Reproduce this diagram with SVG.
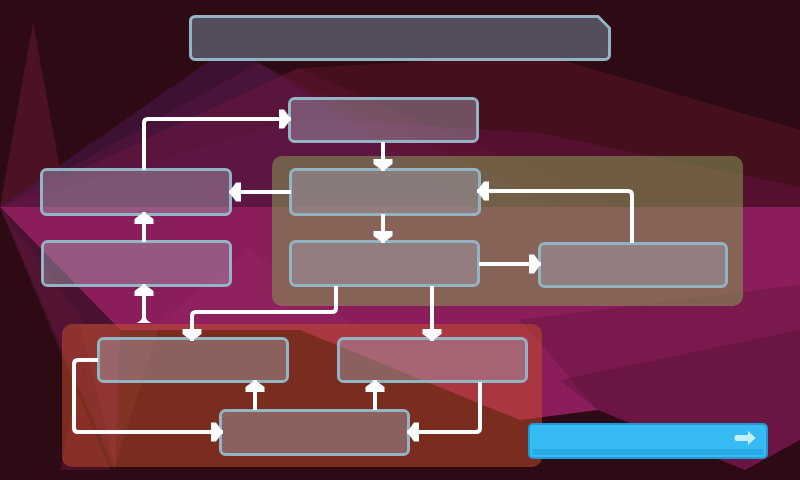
<svg xmlns="http://www.w3.org/2000/svg" width="800" height="480" viewBox="0 0 800 480">
<style>
.node{fill:rgb(165,160,178);fill-opacity:0.45;stroke:#93b4c5;stroke-width:3}
.edge{fill:none;stroke:#ffffff;stroke-width:4}
</style>
<defs>
<marker id="ah" viewBox="0 -10 12 20" refX="12" refY="0" markerWidth="12" markerHeight="20" markerUnits="userSpaceOnUse" orient="auto">
<path d="M0,-9.5 L5,-9.5 L12,0 L5,9.5 L0,9.5 Z" fill="#ffffff"/>
</marker>
<marker id="tail" viewBox="0 -8 6 16" refX="0" refY="0" markerWidth="6" markerHeight="16" markerUnits="userSpaceOnUse" orient="auto">
<path d="M0,-7.5 L0,7.5 Q2,3 5,2 L5,-2 Q2,-3 0,-7.5 Z" fill="#ffffff"/>
</marker>
</defs>
<g id="background">
<rect width="800" height="480" fill="#2d0a14"/>
<polygon points="33,22 62,180 0,207" fill="#4a1222"/>
<polygon points="0,207 298,68 545,55 800,130 800,207" fill="#450f1e"/>
<polygon points="0,207 300,118 540,133 800,187 800,207" fill="#551030"/>
<polygon points="0,207 232,45 480,207" fill="#501850" fill-opacity="0.5"/>
<polygon points="0,207 258,63 560,207" fill="#6a1a55" fill-opacity="0.25"/>
<polygon points="0,207 298,68 620,207" fill="#6a1838" fill-opacity="0.3"/>
<polygon points="0,207 800,207 800,440 745,470 598,410 520,420 300,330 120,330" fill="#8a1d5a"/>
<polygon points="0,207 120,330 115,470" fill="#4a1232"/>
<polygon points="0,207 90,330 60,470 110,470" fill="#5a1535" fill-opacity="0.6"/>
<polygon points="520,320 800,285 800,440 745,470 598,410" fill="#3a0c20" fill-opacity="0.2"/>
<polygon points="560,380 800,330 800,440 745,470 598,410" fill="#3a0c20" fill-opacity="0.25"/>
<polygon points="150,330 250,250 360,330" fill="#a03070" fill-opacity="0.2"/>
</g>
<g id="panels">
<rect id="panelA" x="272" y="156" width="471" height="150" rx="10" fill="rgb(133,154,83)" fill-opacity="0.55"/>
<rect id="panelB" x="62" y="324" width="480" height="143" rx="10" fill="rgb(200,80,40)" fill-opacity="0.5"/>
<polygon points="80,324 115,466 160,324" fill="#c05040" fill-opacity="0.15"/>
</g>
<g id="title">
<path d="M195.5,16.5 H598 L609.5,28 V54.5 Q609.5,59.5 604.5,59.5 H195.5 Q190.5,59.5 190.5,54.5 V21.5 Q190.5,16.5 195.5,16.5 Z" fill="#544d5c" stroke="#93b4c5" stroke-width="3"/>
</g>
<g id="n1"><rect class="node" x="289.5" y="98.5" width="188" height="43" rx="5"/></g>
<g id="n2"><rect class="node" x="290.5" y="169.5" width="189" height="45" rx="5"/></g>
<g id="n3"><rect class="node" x="41.5" y="169.5" width="189" height="45" rx="5"/></g>
<g id="n4"><rect class="node" x="42.5" y="241.5" width="188" height="44" rx="5"/></g>
<g id="n5"><rect class="node" x="290.5" y="241.5" width="188" height="44" rx="5"/></g>
<g id="n6"><rect class="node" x="539.5" y="243.5" width="187" height="43" rx="5"/></g>
<g id="n7"><rect class="node" x="98.5" y="338.5" width="189" height="43" rx="5"/></g>
<g id="n8"><rect class="node" x="338.5" y="338.5" width="188" height="43" rx="5"/></g>
<g id="n9"><rect class="node" x="220.5" y="410.5" width="188" height="44" rx="5"/></g>
<g id="connectors">
<path class="edge" d="M144,170 V123 Q144,119 148,119 H291" marker-end="url(#ah)"/>
<path class="edge" d="M383,142 V171" marker-end="url(#ah)"/>
<path class="edge" d="M291,192 H229" marker-end="url(#ah)"/>
<path class="edge" d="M144,242 V212" marker-end="url(#ah)"/>
<path class="edge" d="M144,323 V284" marker-start="url(#tail)" marker-end="url(#ah)"/>
<path class="edge" d="M383,214 V243" marker-end="url(#ah)"/>
<path class="edge" d="M479,264 H541" marker-end="url(#ah)"/>
<path class="edge" d="M632,243 V195 Q632,191 628,191 H477" marker-end="url(#ah)"/>
<path class="edge" d="M336,286 V308 Q336,312 332,312 H196 Q192,312 192,316 V341" marker-end="url(#ah)"/>
<path class="edge" d="M432,286 V341" marker-end="url(#ah)"/>
<path class="edge" d="M98,360 H78 Q74,360 74,364 V428 Q74,432 78,432 H223" marker-end="url(#ah)"/>
<path class="edge" d="M255,410 V380" marker-end="url(#ah)"/>
<path class="edge" d="M375,410 V380" marker-end="url(#ah)"/>
<path class="edge" d="M480,382 V428 Q480,432 476,432 H407" marker-end="url(#ah)"/>
</g>
<g id="button">
<rect x="529" y="424" width="238" height="34" rx="4" fill="#36bcf3" stroke="#1f9ad4" stroke-width="2"/>
<rect x="532" y="449" width="232" height="6" rx="3" fill="#27a9e5"/>
<path d="M737,435 H748 V431 L755.5,438 L748,445 V441 H737 Q734.5,441 734.5,438 Q734.5,435 737,435 Z" fill="#c6effd"/>
</g>
</svg>
